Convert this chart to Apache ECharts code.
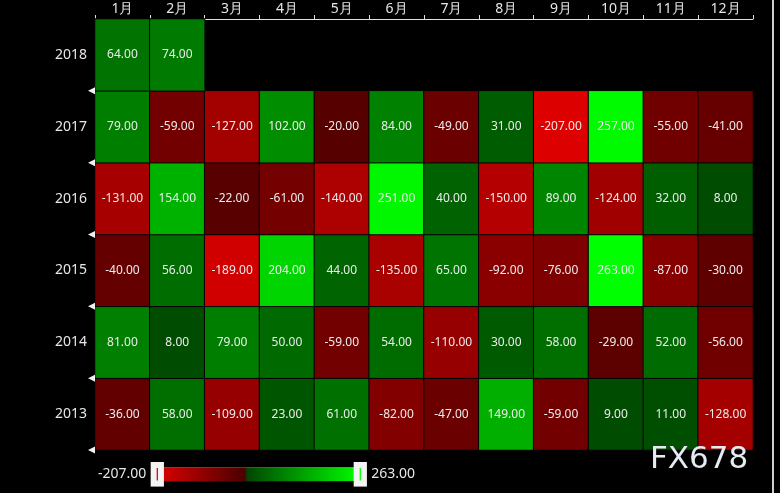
<!DOCTYPE html>
<html>
<head>
<meta charset="utf-8">
<script src="https://cdn.jsdelivr.net/npm/echarts@6/dist/echarts.min.js"></script>
<style>
html,body{margin:0;padding:0;background:#000;}
#chart{width:780px;height:493px;}
</style>
</head>
<body>
<div id="chart"></div>
<script>
const months = ['1月','2月','3月','4月','5月','6月','7月','8月','9月','10月','11月','12月'];
const years = ['2013','2014','2015','2016','2017','2018'];
const v2018 = [64, 74];
const v2017 = [79, -59, -127, 102, -20, 84, -49, 31, -207, 257, -55, -41];
const v2016 = [-131, 154, -22, -61, -140, 251, 40, -150, 89, -124, 32, 8];
const v2015 = [-40, 56, -189, 204, 44, -135, 65, -92, -76, 263, -87, -30];
const v2014 = [81, 8, 79, 50, -59, 54, -110, 30, 58, -29, 52, -56];
const v2013 = [-36, 58, -109, 23, 61, -82, -47, 149, -59, 9, 11, -128];
const rangeMin = -207;
const rangeMax = 263;
const rangeText = ['263.00', '-207.00'];

const rows = {'2013': v2013, '2014': v2014, '2015': v2015, '2016': v2016, '2017': v2017, '2018': v2018};
const data = [];
years.forEach(function (y, yi) {
  rows[y].forEach(function (v, mi) { data.push([mi, yi, v]); });
});

// colour ramp: bright red -> dark red below zero, dark green -> bright green above zero
function hex2(n){ n = Math.round(Math.max(0, Math.min(255, n))); return (n < 16 ? '0' : '') + n.toString(16); }
const ramp = [];
for (let v = rangeMin; v <= rangeMax; v++) {
  if (v < 0) {
    const t = -v / -rangeMin;
    ramp.push('#' + hex2(72 + (221 - 72) * t) + '0000');
  } else {
    const t = v / rangeMax;
    ramp.push('#00' + hex2(70 + (255 - 70) * t) + '00');
  }
}

const chart = echarts.init(document.getElementById('chart'), null, {renderer: 'canvas'});
const font = '"Noto Sans", "DejaVu Sans", sans-serif';
chart.setOption({
  backgroundColor: '#000',
  animation: false,
  grid: {left: 95, right: 27, top: 19, bottom: 43},
  xAxis: {
    type: 'category', position: 'top', data: months,
    axisLine: {lineStyle: {color: '#e0e0e0', width: 1}},
    axisTick: {show: true, length: 4, lineStyle: {color: '#e0e0e0'}},
    axisLabel: {color: '#e6e6e6', fontSize: 14, fontFamily: font, margin: 3},
    splitLine: {show: false}
  },
  yAxis: {
    type: 'category', data: years,
    axisLine: {lineStyle: {color: '#e0e0e0', width: 1}},
    axisTick: {show: false},
    axisLabel: {color: '#e6e6e6', fontSize: 14, fontFamily: font, margin: 8},
    splitLine: {show: false}
  },
  visualMap: {
    type: 'continuous', min: rangeMin, max: rangeMax,
    orient: 'horizontal', left: 83, top: 447,
    itemWidth: 14, itemHeight: 203,
    calculable: true,
    text: rangeText,
    textGap: 11,
    formatter: function () { return ''; },
    handleIcon: 'path://M0,0H20V2H0Z',
    handleSize: '90%',
    handleStyle: {color: '#ffffff', borderColor: '#f4f4f4', borderWidth: 6},
    indicatorSize: 0,
    textStyle: {color: '#e6e6e6', fontSize: 14, fontFamily: font},
    inRange: {color: ramp}
  },
  series: [{
    type: 'heatmap', data: data,
    label: {show: true, color: '#ececec', fontSize: 12, fontFamily: font,
      formatter: function (p) { return p.value[2].toFixed(2); }},
    itemStyle: {borderColor: '#000', borderWidth: 1}
  }]
});

// small left-pointing markers on the y axis at the row boundaries
const yc0 = chart.convertToPixel({yAxisIndex: 0}, years[0]);
const yc1 = chart.convertToPixel({yAxisIndex: 0}, years[1]);
const band = Math.abs(yc0 - yc1);
const xc0 = chart.convertToPixel({xAxisIndex: 0}, months[0]);
const xc1 = chart.convertToPixel({xAxisIndex: 0}, months[1]);
const axisX = xc0 - Math.abs(xc1 - xc0) / 2;
const graphics = [
  {type: 'rect', right: 6, top: 0, shape: {width: 2, height: 493}, style: {fill: '#cfcfcf'}, z: 100},
  {type: 'text', left: 650, top: 444, z: 100,
    style: {text: 'FX678', fill: '#e4ebf2', font: '31px "DejaVu Sans", sans-serif', textVerticalAlign: 'top'}}
];
years.forEach(function (y) {
  const yb = chart.convertToPixel({yAxisIndex: 0}, y) + band / 2;
  graphics.push({type: 'polygon', z: 100,
    shape: {points: [[axisX - 7, yb], [axisX, yb - 3.5], [axisX, yb + 3.5]]},
    style: {fill: '#f0f0f0'}});
});
chart.setOption({graphic: graphics});
</script>
</body>
</html>
